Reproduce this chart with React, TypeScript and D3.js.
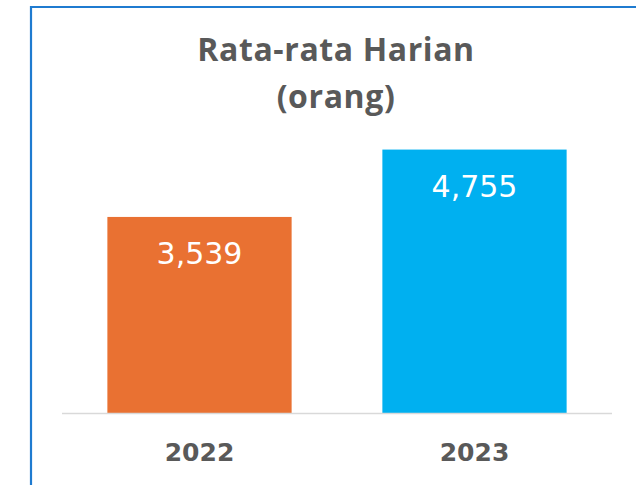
import React, { useEffect, useRef } from 'react';
import * as d3 from 'd3';

const years = ['2022', '2023'];
const values = [3539, 4755];
const colors = ['#E97132', '#00B0F0'];
const titleLines = ['Rata-rata Harian', '(orang)'];

const App = () => {
  const ref = useRef<SVGSVGElement>(null);

  useEffect(() => {
    const svg = d3.select(ref.current);
    svg.selectAll('*').remove();

    const width = 636;
    const height = 485;

    svg.append('rect').attr('width', width).attr('height', height).attr('fill', '#fff');

    // frame (only left and top edges are visible in the crop)
    svg.append('path')
      .attr('d', `M31,${height} L31,7 L${width},7`)
      .attr('fill', 'none')
      .attr('stroke', '#1F7BD0')
      .attr('stroke-width', 2.2);

    const x = d3.scaleBand<string>()
      .domain(years)
      .range([62, 612])
      .paddingInner(0.33)
      .paddingOuter(0.165);

    const y = d3.scaleLinear().domain([0, 5000]).range([413, 136]);

    const font = '"DejaVu Sans", "Open Sans", sans-serif';

    // title
    svg.append('g')
      .selectAll('text')
      .data(titleLines)
      .enter().append('text')
      .attr('x', 336)
      .attr('y', (d, i) => 61 + i * 47)
      .attr('text-anchor', 'middle')
      .attr('font-family', '"Open Sans", sans-serif')
      .attr('font-weight', 700)
      .attr('font-size', 32)
      .attr('letter-spacing', 0.6)
      .attr('fill', '#595959')
      .text(d => d);

    const data = years.map((yr, i) => ({ yr, v: values[i], c: colors[i] }));

    svg.append('g')
      .selectAll('rect')
      .data(data)
      .enter().append('rect')
      .attr('x', d => x(d.yr)!)
      .attr('y', d => y(d.v))
      .attr('width', x.bandwidth())
      .attr('height', d => y(0) - y(d.v))
      .attr('fill', d => d.c);

    // baseline
    svg.append('line')
      .attr('x1', 62).attr('x2', 612)
      .attr('y1', y(0) + 0.5).attr('y2', y(0) + 0.5)
      .attr('stroke', '#D9D9D9')
      .attr('stroke-width', 1.5);

    // value labels
    svg.append('g')
      .selectAll('text')
      .data(data)
      .enter().append('text')
      .attr('x', d => x(d.yr)! + x.bandwidth() / 2)
      .attr('y', d => y(d.v) + 47)
      .attr('text-anchor', 'middle')
      .attr('font-family', font)
      .attr('font-size', 30)
      .attr('fill', '#fff')
      .text(d => d3.format(',')(d.v));

    // category labels
    svg.append('g')
      .selectAll('text')
      .data(years)
      .enter().append('text')
      .attr('x', d => x(d)! + x.bandwidth() / 2)
      .attr('y', 461)
      .attr('text-anchor', 'middle')
      .attr('font-family', font)
      .attr('font-weight', 700)
      .attr('font-size', 25)
      .attr('fill', '#595959')
      .text(d => d);
  }, []);

  return (
    <svg ref={ref} width={636} height={485}
      style={{ position: 'absolute', left: 0, top: 0, display: 'block' }} />
  );
};

export default App;
